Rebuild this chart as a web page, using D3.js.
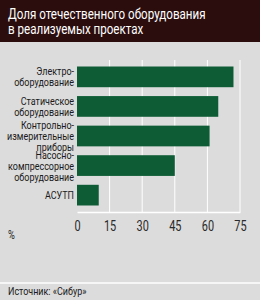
<!DOCTYPE html>
<html>
<head>
<meta charset="utf-8">
<script src="https://cdn.jsdelivr.net/npm/d3@7"></script>
<style>
body{margin:0;background:#dcdcdc;}
svg text{font-family:Roboto,"DejaVu Sans",sans-serif;}
</style>
</head>
<body>
<svg id="chart" width="260" height="300"></svg>
<script>
// data
const categories = [
    ['Электро-', 'оборудование'],
    ['Статическое', 'оборудование'],
    ['Контрольно-', 'измерительные', 'приборы'],
    ['Насосно-', 'компрессорное', 'оборудование'],
    ['АСУТП']
];
const values = [72, 65, 61, 45, 10];
const ticks = [0, 15, 30, 45, 60, 75];
const titleLines = ['Доля отечественного оборудования', 'в реализуемых проектах'];
const source = 'Источник: «Сибур»';

const svg = d3.select('#chart');
const narrow = 0.78; // condensed look
svg.append('rect').attr('width', 260).attr('height', 300).attr('fill', '#dcdcdc');

// header
svg.append('rect').attr('width', 260).attr('height', 42).attr('fill', '#2b0d0d');
svg.append('g').attr('transform', `translate(8,0) scale(0.8,1)`)
    .selectAll('text').data(titleLines).join('text')
    .attr('x', 0).attr('y', (d, i) => 19 + i * 15.5)
    .attr('fill', '#ffffff').attr('font-size', 14.5)
    .text(d => d);

const x = d3.scaleLinear().domain([0, 75]).range([77, 240]);
const y = d3.scaleBand().domain(d3.range(values.length)).range([60, 212]).paddingInner(0.3).paddingOuter(0.22);

// grid
svg.append('g').selectAll('line').data(ticks.slice(1)).join('line')
    .attr('x1', d => x(d)).attr('x2', d => x(d))
    .attr('y1', 60).attr('y2', 212)
    .attr('stroke', '#ffffff').attr('stroke-width', 1);

// bars
svg.append('g').selectAll('rect').data(values).join('rect')
    .attr('x', x(0)).attr('y', (d, i) => y(i))
    .attr('width', d => x(d) - x(0)).attr('height', y.bandwidth())
    .attr('fill', '#0d5c35');

// axis
const axis = svg.append('g').attr('transform', 'translate(0,212)')
    .call(d3.axisBottom(x).tickValues(ticks).tickSize(0).tickPadding(0));
axis.select('.domain').attr('stroke', '#ffffff').attr('stroke-width', 1.5);
axis.selectAll('.tick text')
    .attr('y', 19).attr('dy', null)
    .attr('font-size', 14).attr('fill', '#2a2a2a')
    .attr('font-family', 'Roboto,sans-serif')
    .attr('transform', `scale(${narrow},1)`);

// category labels
const lab = svg.append('g').attr('transform', `translate(74,0) scale(${narrow},1)`)
    .selectAll('text').data(categories).join('text')
    .attr('text-anchor', 'end').attr('font-size', 11.5).attr('fill', '#1a1a1a');
lab.each(function (d, i) {
    const cy = y(i) + y.bandwidth() / 2;
    const lh = 11;
    const y0 = cy - (d.length - 1) * lh / 2 + 4;
    d3.select(this).selectAll('tspan').data(d).join('tspan')
        .attr('x', 0).attr('y', (t, j) => y0 + j * lh).text(t => t);
});

svg.append('text').attr('transform', `translate(8,239) scale(${narrow},1)`)
    .attr('font-size', 12).attr('fill', '#2a2a2a').text('%');

// footer
svg.append('line').attr('x1', 0).attr('x2', 260).attr('y1', 283).attr('y2', 283)
    .attr('stroke', '#ffffff').attr('stroke-width', 1.5);
svg.append('text').attr('transform', `translate(8,295) scale(${narrow},1)`)
    .attr('font-size', 11.5).attr('fill', '#1a1a1a').text(source);
</script>
</body>
</html>
